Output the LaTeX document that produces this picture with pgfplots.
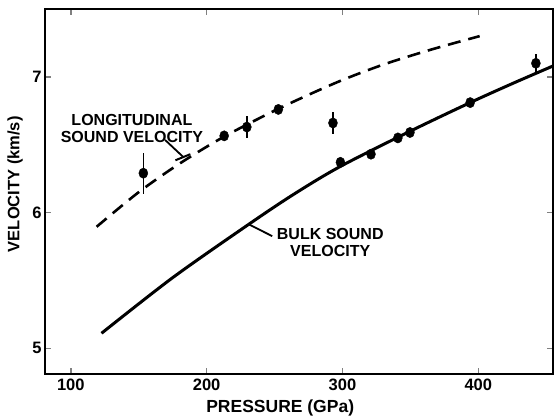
\documentclass[border=0pt]{standalone}
\usepackage{fontspec}
\setmainfont{Liberation Sans}
\usepackage{pgfplots}
\pgfplotsset{compat=1.18}
\begin{document}
\begin{tikzpicture}
\begin{axis}[
  at={(0,0)}, anchor=south west,
  width=508pt, height=365pt, scale only axis,
  xmin=81, xmax=455, ymin=4.81, ymax=7.50,
  xtick={100,200,300,400}, ytick={5,6,7},
  axis line style={line width=1.6pt},
  major tick style={line width=1.4pt},
  major tick length=6pt,
  tick align=inside,
  /pgf/number format/assume math mode=true,
  ticklabel style={font=\fontsize{16.5}{16.5}\selectfont\bfseries},
  xticklabel style={yshift=-1pt},
  xlabel={PRESSURE (GPa)},
  ylabel={VELOCITY (km/s)},
  xlabel style={font=\fontsize{17.5}{17.5}\selectfont\bfseries, at={(axis description cs:0.463,-0.093)}, anchor=center},
  ylabel style={font=\fontsize{16.5}{16.5}\selectfont\bfseries, at={(axis description cs:-0.059,0.52)}, anchor=center, rotate=0},
  clip=false,
]
% bulk sound velocity (solid)
\addplot[black, line width=3pt, no marks, smooth] coordinates {
 (122.6,5.11) (175,5.52) (232,5.92) (265,6.14) (298.5,6.34) (350,6.60) (394,6.81) (425,6.95) (455,7.08)
};
% longitudinal sound velocity (dashed)
\addplot[black, line width=2.6pt, no marks, smooth, dash pattern=on 13pt off 8pt] coordinates {
 (119,5.895) (150,6.15) (180,6.36) (213,6.56) (254,6.77) (296,6.96) (330,7.09) (365,7.20) (401,7.30)
};
% data with error bars
\addplot[black, only marks, mark=*, mark size=4.5pt, mark options={yscale=1.15},
  error bars/.cd, y dir=both, y explicit, error bar style={line width=1.6pt}, error mark=none]
coordinates {
 (153.4,6.29) +- (0,0.15)
 (212.9,6.565) +- (0,0)
 (229.6,6.63) +- (0,0.08)
 (252.8,6.76) +- (0,0)
 (293,6.66) +- (0,0.08)
 (298.5,6.37) +- (0,0)
 (321,6.43) +- (0,0)
 (340.8,6.55) +- (0,0)
 (349.7,6.59) +- (0,0)
 (394,6.81) +- (0,0)
 (442.4,7.10) +- (0,0.07)
};
\draw[line width=1.8pt] (axis cs:169.4,6.535) -- (axis cs:182.7,6.41);
\draw[line width=2pt] (axis cs:177,6.385) -- (axis cs:188,6.43);
\draw[line width=1.8pt] (axis cs:230.6,5.915) -- (axis cs:248.3,5.826);
\node[font=\fontsize{16}{17}\selectfont\bfseries, align=center] at (axis cs:145,6.62) {LONGITUDINAL\\SOUND VELOCITY};
\node[font=\fontsize{16}{17}\selectfont\bfseries, align=center] at (axis cs:291,5.78) {BULK SOUND\\VELOCITY};
\end{axis}
\pgfresetboundingbox
\path (-45pt,-45pt) rectangle (509pt,374pt);
\end{tikzpicture}
\end{document}
